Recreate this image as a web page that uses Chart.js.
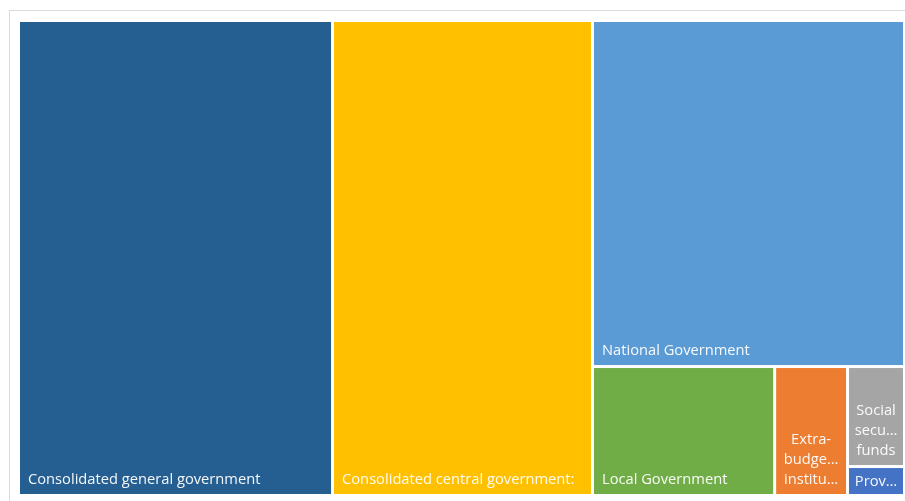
<!DOCTYPE html>
<html>
<head>
<meta charset="utf-8">
<script src="https://cdn.jsdelivr.net/npm/chart.js@4.4.1/dist/chart.umd.min.js"></script>
<style>
  html, body { margin: 0; padding: 0; background: #fff; overflow: hidden; }
  #frame { position: absolute; left: 9px; top: 10px; width: 930px; height: 530px; border: 1px solid #dcdcdc; }
  #wrap { position: absolute; left: 0; top: 0; width: 905px; height: 501px; }
</style>
</head>
<body>
<div id="frame"></div>
<div id="wrap"><canvas id="chart"></canvas></div>
<script>
// Government sectors, sized by value
const CATEGORIES = [
    'Consolidated general government',
    'Consolidated central government:',
    'National Government',
    'Local Government',
    'Extra-budgetary institutions',
    'Social security funds',
    'Provinces'
];
const VALUES = [1492, 1235, 1080, 235, 94, 57, 16.5];

const COLORS = ['#255e91', '#ffc000', '#5b9bd5', '#70ad47', '#ed7d31', '#a5a5a5', '#4472c4'];
const FONT = '14.7px "Open Sans"';
const GAP = 1.5;

// worst aspect ratio of a strip laid along a side of length `side`
function worst(row, side) {
    const sum = row.reduce((a, b) => a + b.area, 0);
    const thick = sum / side;
    let w = 0;
    row.forEach(r => {
        const len = r.area / thick;
        w = Math.max(w, len / thick, thick / len);
    });
    return w;
}

// squarified layout in pixel-like units of a w x h box
function squarify(items, w, h) {
    let x = 0, y = 0;
    const out = [];
    let rest = items.slice();
    while (rest.length) {
        const side = Math.min(w, h);
        let row = [rest[0]];
        let i = 1;
        while (i < rest.length && worst(row.concat(rest[i]), side) <= worst(row, side)) {
            row.push(rest[i]);
            i++;
        }
        rest = rest.slice(i);
        const sum = row.reduce((a, b) => a + b.area, 0);
        if (w >= h) {
            const cw = sum / h;
            let cy = y;
            row.forEach(r => {
                const rh = r.area / cw;
                out.push({ ...r, x: x, y: cy, w: cw, h: rh });
                cy += rh;
            });
            x += cw; w -= cw;
        } else {
            const rh = sum / w;
            let cx = x;
            row.forEach(r => {
                const rw = r.area / rh;
                out.push({ ...r, x: cx, y: y, w: rw, h: rh });
                cx += rw;
            });
            y += rh; h -= rh;
        }
    }
    return out;
}

function fitWord(ctx, word, maxW) {
    if (ctx.measureText(word).width <= maxW) return word;
    let s = word;
    while (s.length > 1 && ctx.measureText(s + '…').width > maxW) s = s.slice(0, -1);
    return s + '…';
}

function drawLabel(ctx, text, x1, y1, x2, y2) {
    const w = x2 - x1, h = y2 - y1;
    ctx.font = FONT;
    ctx.fillStyle = 'rgba(255,255,255,0.95)';
    if (ctx.measureText(text).width <= w - 16) {
        ctx.textAlign = 'left';
        ctx.textBaseline = 'alphabetic';
        ctx.fillText(text, x1 + 8, y2 - 10);
        return;
    }
    const maxW = w * 0.84;
    const words = text.split(/(?<=-)|\s+/);
    const cx = (x1 + x2) / 2;
    ctx.textAlign = 'center';
    if (h < 40) {
        ctx.textBaseline = 'middle';
        ctx.fillText(fitWord(ctx, words[0], maxW), cx, (y1 + y2) / 2 + 1);
        return;
    }
    ctx.textBaseline = 'alphabetic';
    const lines = words.map(wd => fitWord(ctx, wd, maxW));
    const lineH = 20;
    lines.forEach((ln, i) => {
        ctx.fillText(ln, cx, y2 - 10 - (lines.length - 1 - i) * lineH);
    });
}

const treemapPlugin = {
    id: 'treemap',
    afterDatasetsDraw(chart) {
        const { ctx, chartArea, scales } = chart;
        const W = chartArea.right - chartArea.left;
        const H = chartArea.bottom - chartArea.top;
        const total = VALUES.reduce((a, b) => a + b, 0);
        const items = CATEGORIES.map((label, i) => ({ label, color: COLORS[i], area: VALUES[i] / total * W * H }));
        const cells = squarify(items, W, H);
        ctx.save();
        cells.forEach(c => {
            const x1 = scales.x.getPixelForValue(c.x / W) + GAP;
            const x2 = scales.x.getPixelForValue((c.x + c.w) / W) - GAP;
            const y1 = scales.y.getPixelForValue(1 - c.y / H) + GAP;
            const y2 = scales.y.getPixelForValue(1 - (c.y + c.h) / H) - GAP;
            ctx.fillStyle = c.color;
            ctx.fillRect(x1, y1, x2 - x1, y2 - y1);
            drawLabel(ctx, c.label, x1, y1, x2, y2);
        });
        ctx.restore();
    }
};

new Chart(document.getElementById('chart'), {
    type: 'scatter',
    data: { datasets: [{ data: [] }] },
    options: {
        responsive: true,
        maintainAspectRatio: false,
        animation: false,
        layout: { padding: { left: 18.5, top: 20.5, right: 0.5, bottom: 5.5 } },
        scales: {
            x: { display: false, min: 0, max: 1 },
            y: { display: false, min: 0, max: 1 }
        },
        plugins: { legend: { display: false }, tooltip: { enabled: false } }
    },
    plugins: [treemapPlugin]
});
</script>
</body>
</html>
